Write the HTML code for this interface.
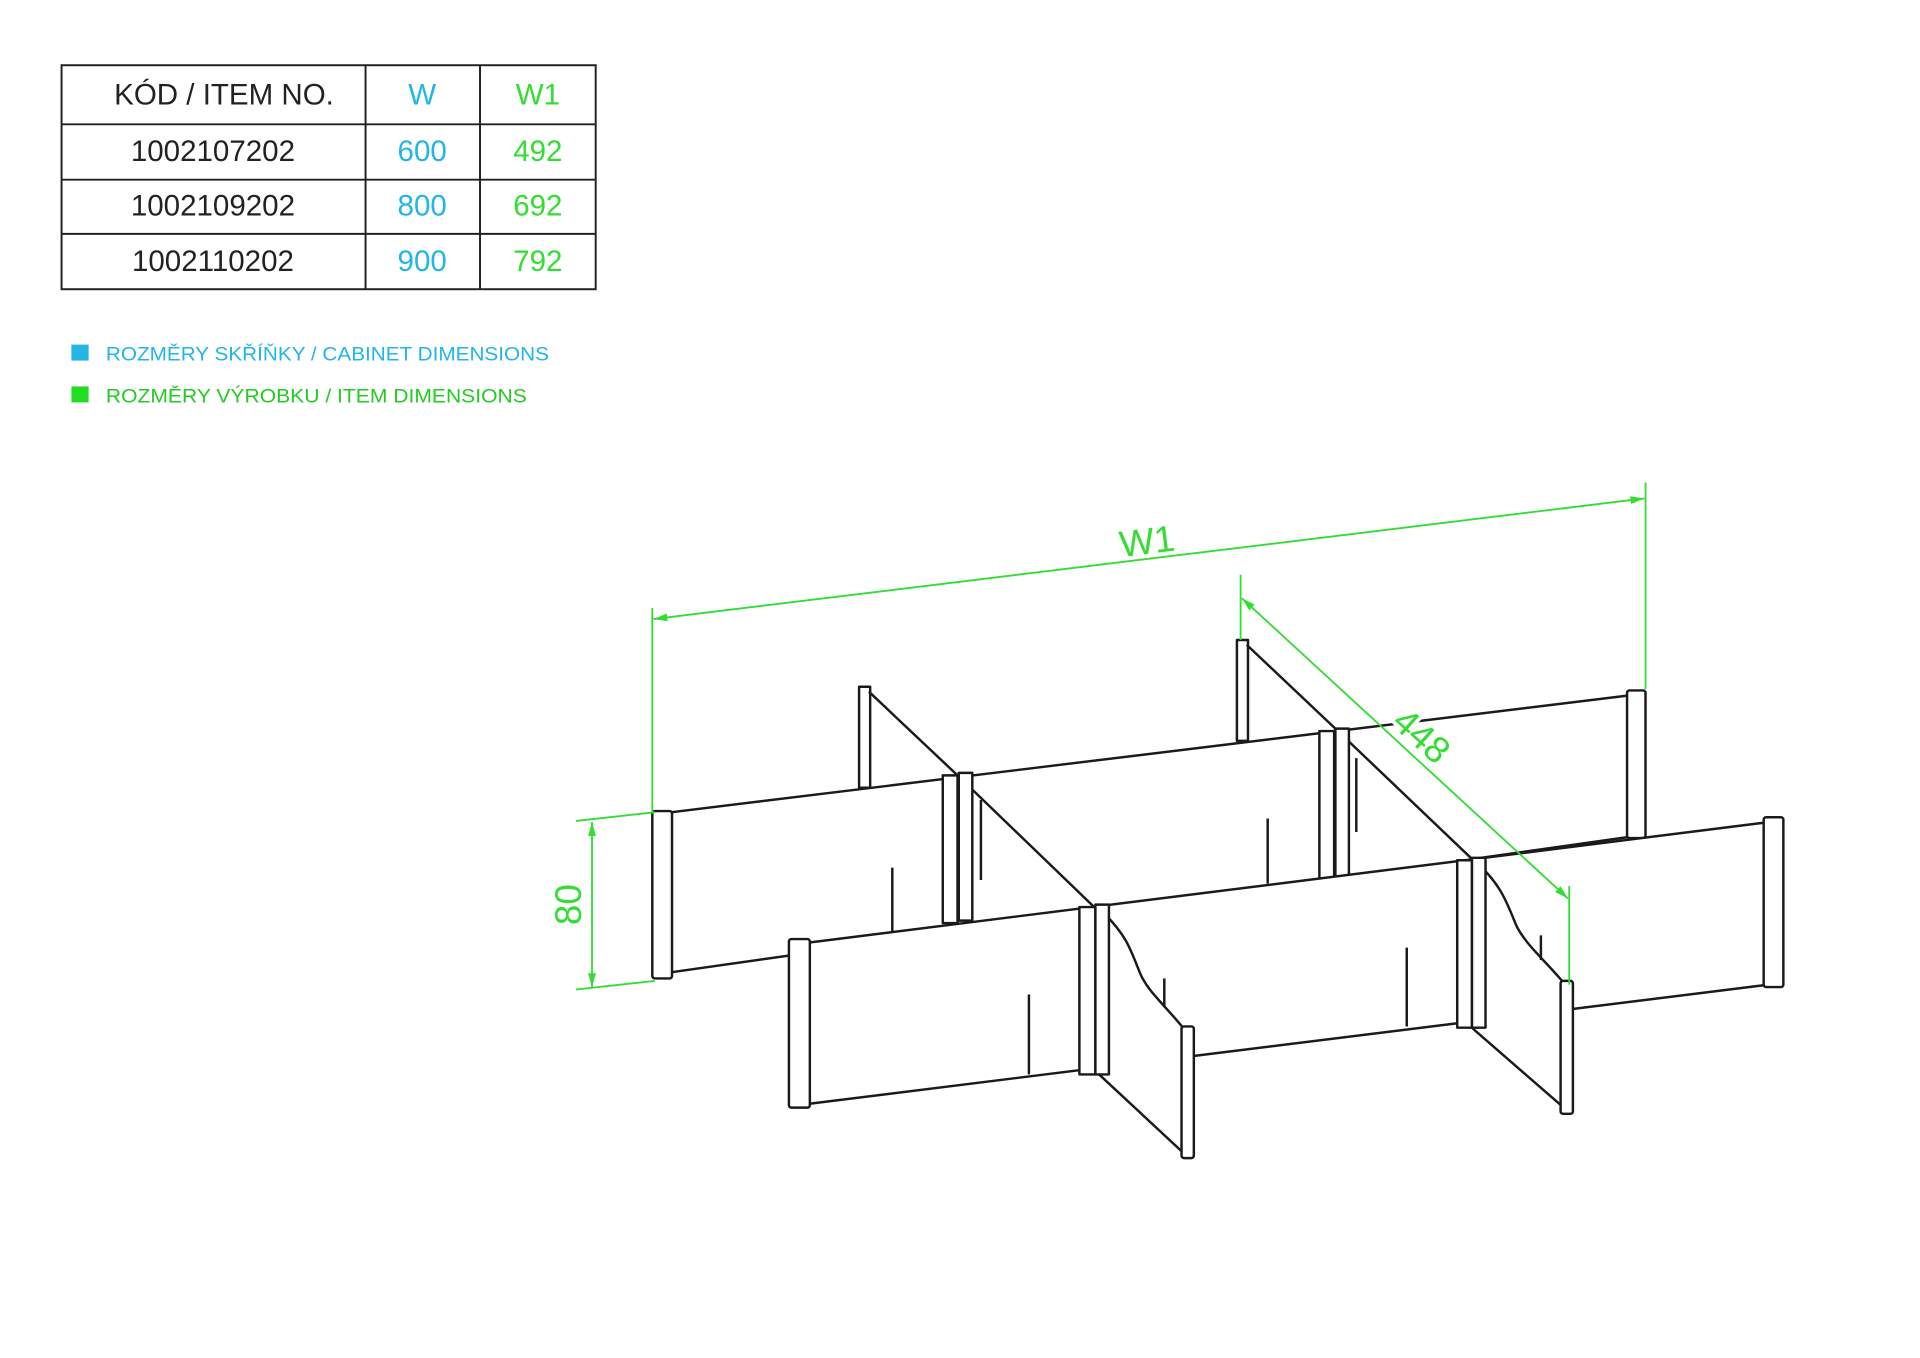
<!DOCTYPE html>
<html><head><meta charset="utf-8"><style>
html,body{margin:0;padding:0;background:#fff;}
svg{display:block;}
</style></head><body>
<svg width="1920" height="1358" viewBox="0 0 1560 1103.4" xmlns="http://www.w3.org/2000/svg" font-family="'Liberation Sans', sans-serif">
<defs>
<marker id="ar" viewBox="0 0 14 10" refX="14" refY="5" markerWidth="14" markerHeight="8" orient="auto-start-reverse" markerUnits="userSpaceOnUse">
<path d="M0,1 L14,5 L0,9 Z" fill="#33dd33"/></marker>
</defs>
<!-- table -->
<g stroke="#222" stroke-width="1.6" fill="none">
<rect x="50" y="53" width="434" height="182"/>
<line x1="297" y1="53" x2="297" y2="235"/>
<line x1="390" y1="53" x2="390" y2="235"/>
<line x1="50" y1="101" x2="484" y2="101"/>
<line x1="50" y1="146" x2="484" y2="146"/>
<line x1="50" y1="190" x2="484" y2="190"/>
</g>
<g font-size="24" text-anchor="middle">
<text x="182" y="85" fill="#222">KÓD / ITEM NO.</text>
<text x="343" y="85" fill="#22b5e8">W</text>
<text x="437" y="85" fill="#33dd33">W1</text>
<text x="173" y="131" fill="#222">1002107202</text>
<text x="343" y="131" fill="#22b5e8">600</text>
<text x="437" y="131" fill="#33dd33">492</text>
<text x="173" y="175" fill="#222">1002109202</text>
<text x="343" y="175" fill="#22b5e8">800</text>
<text x="437" y="175" fill="#33dd33">692</text>
<text x="173" y="220" fill="#222">1002110202</text>
<text x="343" y="220" fill="#22b5e8">900</text>
<text x="437" y="220" fill="#33dd33">792</text>
</g>
<!-- legend -->
<rect x="58" y="280" width="14" height="13" fill="#22b5e8"/>
<rect x="58" y="314" width="14" height="13" fill="#22dd22"/>
<text x="86" y="293" font-size="16" fill="#22b5e8" textLength="360" lengthAdjust="spacingAndGlyphs">ROZMĚRY SKŘÍŇKY / CABINET DIMENSIONS</text>
<text x="86" y="327" font-size="16" fill="#22cc22" textLength="342" lengthAdjust="spacingAndGlyphs">ROZMĚRY VÝROBKU / ITEM DIMENSIONS</text>

<!-- drawing -->
<g stroke="#1a1a1a" stroke-width="2" fill="#fff" stroke-linejoin="round">
<rect x="698" y="558" width="9" height="82"/>
<rect x="1005" y="520" width="9" height="82"/>
<polygon points="545,660 1324,565 1324,680 545,790"/>
<rect x="530" y="659" width="16" height="136" rx="2"/>
<rect x="1322" y="561" width="15" height="120" rx="2"/>
<line x1="706" y1="562" x2="778" y2="630"/>
<line x1="1013" y1="524" x2="1085" y2="592"/>
<polygon points="778,630 888,736 888,872 778,752"/>
<polygon points="1085,592 1195,697 1195,835 1085,714"/>
<rect x="766" y="630" width="12" height="120"/>
<rect x="779" y="628" width="11" height="120"/>
<rect x="1072" y="594" width="12" height="120"/>
<rect x="1085" y="592" width="11" height="120"/>
<line x1="797" y1="650" x2="797" y2="715"/>
<line x1="1102" y1="616" x2="1102" y2="676"/>
<line x1="725" y1="705" x2="725" y2="757"/>
<line x1="1030" y1="665" x2="1030" y2="718"/>
<polygon points="656,766 1437,668 1437,800 656,897"/>
<rect x="641" y="763" width="17" height="137" rx="2"/>
<rect x="1433" y="664" width="16" height="138" rx="2"/>
<line x1="836" y1="808" x2="836" y2="873"/>
<line x1="1143" y1="770" x2="1143" y2="834"/>
<path d="M897,742 C915,760 918,770 926,790 C932,805 945,815 962,836 L965,940 L893,873 Z"/>
<path d="M1203,704 C1220,720 1225,735 1232,752 C1240,768 1255,780 1270,798 L1274,903 L1197,836 Z"/>
<line x1="946" y1="795" x2="946" y2="818"/>
<line x1="1252" y1="760" x2="1252" y2="780"/>
<rect x="960" y="834" width="10" height="107" rx="2"/>
<rect x="1268" y="797" width="10" height="108" rx="2"/>
<rect x="877" y="737" width="13" height="136"/>
<rect x="890" y="735" width="11" height="138"/>
<rect x="1184" y="699" width="12" height="136"/>
<rect x="1196" y="697" width="11" height="138"/>
</g>

<!-- dimensions (on top) -->
<g stroke="#33dd33" stroke-width="1.5" fill="none">
<line x1="530" y1="494" x2="530" y2="660"/>
<line x1="1337" y1="392" x2="1337" y2="560"/>
<line x1="531" y1="503" x2="1336" y2="405" marker-start="url(#ar)" marker-end="url(#ar)"/>
<line x1="1008" y1="467" x2="1008" y2="520"/>
<line x1="1275" y1="720" x2="1275" y2="800"/>
<line x1="1009" y1="486" x2="1274" y2="730" marker-start="url(#ar)" marker-end="url(#ar)"/>
<line x1="468" y1="667" x2="532" y2="660"/>
<line x1="468" y1="804" x2="532" y2="797"/>
<line x1="481" y1="668" x2="481" y2="802" marker-start="url(#ar)" marker-end="url(#ar)"/>
</g>
<text x="932" y="450" font-size="30" fill="#33dd33" text-anchor="middle" transform="rotate(-7 932 440)">W1</text>
<text x="1155" y="608" font-size="30" fill="#33dd33" stroke="#fff" stroke-width="6" paint-order="stroke" text-anchor="middle" transform="rotate(42 1155 598)">448</text>
<text x="462" y="745" font-size="30" fill="#33dd33" text-anchor="middle" transform="rotate(-90 462 735)">80</text>
</svg>
</body></html>
